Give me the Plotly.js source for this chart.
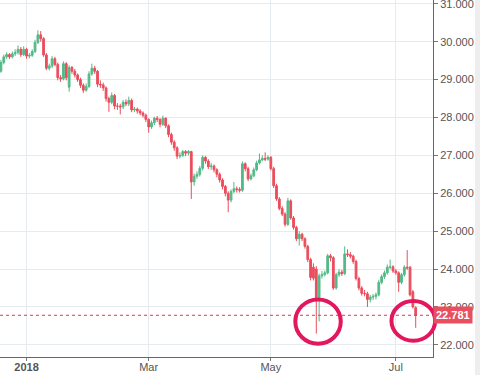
<!DOCTYPE html>
<html>
<head>
<meta charset="utf-8">
<script src="https://cdn.plot.ly/plotly-3.0.1.min.js"></script>
<style>html,body{margin:0;padding:0;background:#fff;}#chart{width:480px;height:375px;}</style>
</head>
<body>
<div id="chart"></div>
<script>
// Daily candles (business days)
const dates = [
'2017-12-18','2017-12-19','2017-12-20','2017-12-21','2017-12-22',
'2017-12-25','2017-12-26','2017-12-27','2017-12-28','2017-12-29',
'2018-01-01','2018-01-02','2018-01-03','2018-01-04','2018-01-05',
'2018-01-08','2018-01-09','2018-01-10','2018-01-11','2018-01-12',
'2018-01-15','2018-01-16','2018-01-17','2018-01-18','2018-01-19',
'2018-01-22','2018-01-23','2018-01-24','2018-01-25','2018-01-26',
'2018-01-29','2018-01-30','2018-01-31','2018-02-01','2018-02-02',
'2018-02-05','2018-02-06','2018-02-07','2018-02-08','2018-02-09',
'2018-02-12','2018-02-13','2018-02-14','2018-02-15','2018-02-16',
'2018-02-19','2018-02-20','2018-02-21','2018-02-22','2018-02-23',
'2018-02-26','2018-02-27','2018-02-28','2018-03-01','2018-03-02',
'2018-03-05','2018-03-06','2018-03-07','2018-03-08','2018-03-09',
'2018-03-12','2018-03-13','2018-03-14','2018-03-15','2018-03-16',
'2018-03-19','2018-03-20','2018-03-21','2018-03-22','2018-03-23',
'2018-03-26','2018-03-27','2018-03-28','2018-03-29','2018-03-30',
'2018-04-02','2018-04-03','2018-04-04','2018-04-05','2018-04-06',
'2018-04-09','2018-04-10','2018-04-11','2018-04-12','2018-04-13',
'2018-04-16','2018-04-17','2018-04-18','2018-04-19','2018-04-20',
'2018-04-23','2018-04-24','2018-04-25','2018-04-26','2018-04-27',
'2018-04-30','2018-05-01','2018-05-02','2018-05-03','2018-05-04',
'2018-05-07','2018-05-08','2018-05-09','2018-05-10','2018-05-11',
'2018-05-14','2018-05-15','2018-05-16','2018-05-17','2018-05-18',
'2018-05-21','2018-05-22','2018-05-23','2018-05-24','2018-05-25',
'2018-05-28','2018-05-29','2018-05-30','2018-05-31','2018-06-01',
'2018-06-04','2018-06-05','2018-06-06','2018-06-07','2018-06-08',
'2018-06-11','2018-06-12','2018-06-13','2018-06-14','2018-06-15',
'2018-06-18','2018-06-19','2018-06-20','2018-06-21','2018-06-22',
'2018-06-25','2018-06-26','2018-06-27','2018-06-28','2018-06-29',
'2018-07-02','2018-07-03','2018-07-04','2018-07-05','2018-07-06',
'2018-07-09','2018-07-10','2018-07-11'
];
const openV = [
29.02,29.22,29.45,29.60,29.66, 29.60,29.68,29.72,29.80,29.66,
29.80,29.62,29.64,29.74,29.98, 30.18,30.08,29.65,29.30,29.36,
29.55,29.40,29.05,29.02,29.42, 28.80,29.32,29.22,29.12,29.00,
28.85,28.72,28.82,29.15,29.30, 29.22,28.88,28.86,28.78,28.50,
28.40,28.58,28.30,28.30,28.28, 28.40,28.36,28.45,28.20,28.22,
28.17,28.12,28.06,27.95,27.75, 27.86,27.98,27.95,27.82,27.98,
27.78,27.55,27.35,27.20,26.98, 27.00,27.10,27.06,27.10,26.30,
26.45,26.50,26.66,26.95,26.85, 26.70,26.72,26.62,26.50,26.35,
26.18,26.00,25.82,26.05,26.12, 26.10,26.08,26.78,26.65,26.38,
26.46,26.62,26.80,26.88,26.92, 26.90,26.95,26.65,26.20,25.85,
25.60,25.45,25.18,25.80,25.35, 25.10,24.80,24.92,24.80,24.60,
24.25,24.05,24.00,23.25,23.82, 23.86,23.90,24.35,24.30,23.50,
23.85,23.92,23.88,24.40,24.38, 24.34,24.20,23.75,23.50,23.36,
23.35,23.20,23.26,23.28,23.32, 23.65,23.80,23.90,24.05,24.06,
23.95,23.90,23.65,23.85,24.05, 24.05,23.40,22.98
];
const highV = [
29.30,29.52,29.66,29.72,29.70, 29.74,29.80,29.90,29.86,29.88,
29.84,29.70,29.80,30.05,30.30, 30.28,30.12,29.70,29.42,29.62,
29.60,29.45,29.12,29.48,29.46, 29.38,29.36,29.28,29.16,29.05,
28.90,28.90,29.22,29.42,29.36, 29.25,28.98,28.92,28.82,28.55,
28.66,28.62,28.38,28.36,28.46, 28.48,28.55,28.50,28.28,28.26,
28.22,28.16,28.10,27.98,27.92, 28.02,28.04,27.98,28.05,28.00,
27.82,27.60,27.40,27.24,27.08, 27.14,27.14,27.14,27.12,26.52,
26.58,26.72,27.00,26.98,26.90, 26.80,26.76,26.66,26.55,26.40,
26.22,26.05,26.10,26.30,26.18, 26.16,26.84,26.82,26.70,26.52,
26.68,26.86,27.05,27.00,27.08, 27.00,26.98,26.70,26.25,25.90,
25.66,25.50,25.88,25.84,25.40, 25.14,25.00,24.96,24.84,24.64,
24.30,24.15,24.08,23.88,23.95, 23.96,24.40,24.40,24.34,23.90,
24.00,23.98,24.60,24.52,24.45, 24.38,24.25,23.80,23.55,23.45,
23.40,23.32,23.34,23.38,23.72, 23.86,23.96,24.12,24.25,24.10,
24.00,23.94,23.90,24.10,24.50, 24.08,23.45,23.02
];
const lowV = [
28.95,29.18,29.40,29.55,29.54, 29.56,29.62,29.66,29.60,29.62,
29.55,29.56,29.60,29.70,29.94, 30.00,29.60,29.25,29.24,29.30,
29.35,28.98,28.94,28.98,28.98, 28.68,29.15,29.05,28.94,28.78,
28.65,28.68,28.78,29.10,29.15, 28.80,28.78,28.70,28.42,28.15,
28.35,28.22,28.20,28.08,28.22, 28.30,28.30,28.14,28.14,28.10,
28.06,28.00,27.88,27.60,27.70, 27.80,27.88,27.74,27.78,27.72,
27.48,27.28,27.12,26.90,26.92, 26.96,26.98,27.00,25.85,26.20,
26.38,26.44,26.60,26.78,26.64, 26.62,26.55,26.42,26.28,26.10,
25.92,25.50,25.76,26.00,26.02, 26.02,26.04,26.58,26.32,26.34,
26.42,26.58,26.76,26.84,26.85, 26.86,26.60,26.14,25.80,25.55,
25.40,25.12,25.14,25.30,25.04, 24.74,24.62,24.74,24.54,24.18,
23.70,23.70,22.30,22.62,23.75, 23.80,23.86,24.20,23.45,23.46,
23.80,23.82,23.84,24.32,24.28, 24.14,23.70,23.44,23.30,23.28,
23.00,23.12,23.18,23.20,23.28, 23.60,23.74,23.85,24.00,23.90,
23.85,23.40,23.60,23.80,23.98, 23.28,22.96,22.45
];
const closeV = [
29.22,29.45,29.60,29.66,29.60, 29.68,29.72,29.80,29.66,29.80,
29.62,29.64,29.74,29.98,30.18, 30.08,29.65,29.30,29.36,29.55,
29.40,29.05,29.02,29.42,29.05, 29.32,29.22,29.12,29.00,28.85,
28.72,28.82,29.15,29.30,29.22, 28.88,28.86,28.78,28.50,28.40,
28.58,28.30,28.30,28.28,28.40, 28.36,28.45,28.20,28.22,28.17,
28.12,28.06,27.95,27.75,27.86, 27.98,27.95,27.82,27.98,27.78,
27.55,27.35,27.20,26.98,27.00, 27.10,27.06,27.10,26.30,26.45,
26.50,26.66,26.95,26.85,26.70, 26.72,26.62,26.50,26.35,26.18,
26.00,25.82,26.05,26.12,26.10, 26.08,26.78,26.65,26.38,26.46,
26.62,26.80,26.88,26.92,26.90, 26.95,26.65,26.20,25.85,25.60,
25.45,25.18,25.80,25.35,25.10, 24.80,24.92,24.80,24.60,24.25,
23.78,23.76,23.25,23.82,23.86, 23.90,24.35,24.30,23.50,23.85,
23.92,23.88,24.40,24.38,24.34, 24.20,23.75,23.50,23.36,23.35,
23.20,23.26,23.28,23.32,23.65, 23.80,23.90,24.05,24.06,23.95,
23.90,23.65,23.85,24.05,24.03, 23.32,23.00,22.781
];
const tickDates = ['2018-01-01','2018-03-01','2018-05-01','2018-07-02'];
const tickLabels = ['<b>2018</b>','Mar','May','Jul'];
const lastPrice = closeV[closeV.length - 1];

const UP = '#53b987', DOWN = '#eb4d5c', RING = '#e2175e';
const noon = d => d + ' 12:00';

const trace = {
  type: 'candlestick',
  x: dates.map(noon),
  open: openV, high: highV, low: lowV, close: closeV,
  increasing: {line: {color: UP, width: 1}, fillcolor: UP},
  decreasing: {line: {color: DOWN, width: 1}, fillcolor: DOWN},
  whiskerwidth: 0,
  hoverinfo: 'skip',
  showlegend: false
};

const font = {family: 'Liberation Sans, Arial, sans-serif', size: 11, color: '#555'};

const layout = {
  width: 480, height: 375,
  margin: {l: 0, r: 47, t: 0, b: 18, pad: 0},
  paper_bgcolor: '#ffffff', plot_bgcolor: '#ffffff',
  font: font,
  showlegend: false,
  boxgap: 0.12,
  xaxis: {
    type: 'date',
    range: ['2017-12-19 04:00', '2018-07-19 14:00'],
    rangebreaks: [{bounds: ['sat', 'mon']}],
    rangeslider: {visible: false},
    tickmode: 'array',
    tickvals: tickDates.map(noon),
    ticktext: tickLabels,
    showgrid: true, gridcolor: '#e6ebf0', gridwidth: 1,
    ticks: 'outside', ticklen: 3, tickcolor: '#777',
    ticklabelstandoff: -3,
    showline: true, linecolor: '#666', linewidth: 1,
    zeroline: false, tickfont: font, fixedrange: true
  },
  yaxis: {
    side: 'right',
    range: [21.68, 31.1],
    tick0: 22, dtick: 1, tickformat: '.3f',
    ticklabeloverflow: 'allow',
    showgrid: true, gridcolor: '#e6ebf0', gridwidth: 1,
    ticks: 'outside', ticklen: 4, tickcolor: '#777',
    showline: true, linecolor: '#666', linewidth: 1,
    zeroline: false, tickfont: font, fixedrange: true
  },
  shapes: [
    {type: 'rect', xref: 'paper', yref: 'paper', x0: 1.097, x1: 1.12, y0: -0.1, y1: 1.1,
     fillcolor: '#eeeeee', line: {width: 0}, layer: 'below'},
    {type: 'line', xref: 'paper', yref: 'y', x0: 0, x1: 1, y0: lastPrice, y1: lastPrice,
     line: {color: '#d63a55', width: 1, dash: 'dot'}},
    {type: 'circle', xref: 'paper', yref: 'y', x0: 0.682, x1: 0.787, y0: 22.03, y1: 23.20,
     line: {color: RING, width: 4}},
    {type: 'circle', xref: 'paper', yref: 'y', x0: 0.904, x1: 1.005, y0: 22.11, y1: 23.16,
     line: {color: RING, width: 4}}
  ],
  annotations: [
    {xref: 'paper', yref: 'y', x: 1, y: lastPrice, xanchor: 'left', yanchor: 'middle',
     text: '<b>' + lastPrice.toFixed(3) + '</b>', showarrow: false,
     bgcolor: '#e8505f', borderpad: 2,
     font: {family: 'Liberation Sans, Arial, sans-serif', size: 11, color: '#ffffff'}}
  ]
};

Plotly.newPlot('chart', [trace], layout, {displayModeBar: false, staticPlot: true});
</script>
</body>
</html>
